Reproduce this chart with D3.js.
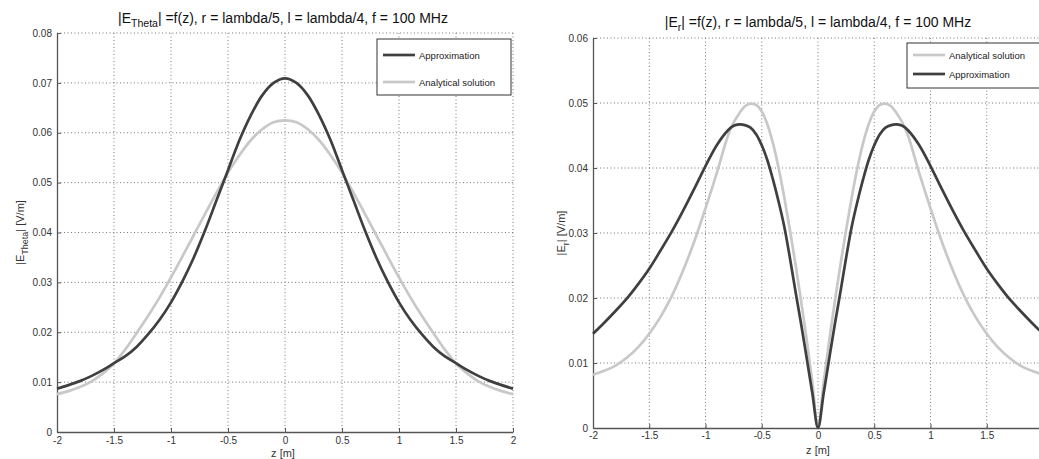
<!DOCTYPE html>
<html>
<head>
<meta charset="utf-8">
<script src="https://cdn.jsdelivr.net/npm/d3@7"></script>
<style>
    body { margin: 0; background: #fff; }
    svg { display: block; font-family: "Liberation Sans", Arial, sans-serif; }
</style>
</head>
<body>
<div id="chart"></div>
<script>
// z positions of the |E_Theta| plot
var zLeft = [-2, -1.9, -1.8, -1.7, -1.6, -1.5, -1.4, -1.3, -1.2, -1.1, -1, -0.9, -0.8, -0.7, -0.6, -0.5, -0.4, -0.3, -0.2, -0.1,
    0, 0.1, 0.2, 0.3, 0.4, 0.5, 0.6, 0.7, 0.8, 0.9, 1, 1.1, 1.2, 1.3, 1.4, 1.5, 1.6, 1.7, 1.8, 1.9, 2];

// |E_Theta| values
var thetaApprox = [0.0087, 0.0094, 0.0102, 0.0112, 0.0124, 0.0138, 0.0152, 0.0171, 0.0196, 0.0225, 0.0260, 0.0302, 0.0350, 0.0405, 0.0465, 0.0525, 0.0585, 0.0635, 0.0675, 0.0700,
    0.0709, 0.0700, 0.0675, 0.0635, 0.0585, 0.0525, 0.0465, 0.0405, 0.0350, 0.0302, 0.0260, 0.0225, 0.0196, 0.0171, 0.0152, 0.0138, 0.0124, 0.0112, 0.0102, 0.0094, 0.0087];
var thetaAnalytic = [0.0076, 0.0082, 0.0090, 0.0101, 0.0117, 0.0137, 0.0166, 0.0199, 0.0233, 0.0270, 0.0310, 0.0352, 0.0395, 0.0438, 0.0480, 0.0520, 0.0555, 0.0585, 0.0607, 0.0621,
    0.0625, 0.0621, 0.0607, 0.0585, 0.0555, 0.0520, 0.0480, 0.0438, 0.0395, 0.0352, 0.0310, 0.0270, 0.0233, 0.0199, 0.0166, 0.0137, 0.0117, 0.0101, 0.0090, 0.0082, 0.0076];

// |E_r| values, finer near z = 0
var zRight = [-2, -1.9, -1.8, -1.7, -1.6, -1.5, -1.4, -1.3, -1.2, -1.1, -1, -0.9, -0.8, -0.75, -0.7, -0.65, -0.6, -0.55, -0.5, -0.45, -0.4, -0.35, -0.3, -0.25, -0.2, -0.15, -0.1, -0.05,
    0, 0.05, 0.1, 0.15, 0.2, 0.25, 0.3, 0.35, 0.4, 0.45, 0.5, 0.55, 0.6, 0.65, 0.7, 0.75, 0.8, 0.9, 1, 1.1, 1.2, 1.3, 1.4, 1.5, 1.6, 1.7, 1.8, 1.9, 2];
var rAnalytic = [0.0082, 0.0088, 0.0096, 0.0108, 0.0124, 0.0145, 0.0171, 0.0203, 0.0242, 0.0287, 0.0338, 0.0392, 0.0450, 0.0470, 0.0484, 0.0495, 0.0499, 0.0497, 0.0487, 0.0467, 0.0438, 0.0400, 0.0355, 0.0305, 0.0252, 0.0195, 0.0135, 0.0070,
    0, 0.0070, 0.0135, 0.0195, 0.0252, 0.0305, 0.0355, 0.0400, 0.0438, 0.0467, 0.0487, 0.0497, 0.0499, 0.0495, 0.0484, 0.0470, 0.0450, 0.0392, 0.0338, 0.0287, 0.0242, 0.0203, 0.0171, 0.0145, 0.0124, 0.0108, 0.0096, 0.0088, 0.0082];
var rApprox = [0.0145, 0.0162, 0.0180, 0.0199, 0.0221, 0.0245, 0.0273, 0.0302, 0.0334, 0.0368, 0.0403, 0.0435, 0.0458, 0.0465, 0.0467, 0.0466, 0.0462, 0.0452, 0.0435, 0.0412, 0.0382, 0.0348, 0.0310, 0.0262, 0.0210, 0.0160, 0.0107, 0.0053,
    0, 0.0053, 0.0107, 0.0160, 0.0210, 0.0262, 0.0310, 0.0348, 0.0382, 0.0412, 0.0435, 0.0452, 0.0462, 0.0466, 0.0467, 0.0465, 0.0458, 0.0435, 0.0403, 0.0368, 0.0334, 0.0302, 0.0273, 0.0245, 0.0221, 0.0199, 0.0180, 0.0162, 0.0145];

var xTicks = [-2, -1.5, -1, -0.5, 0, 0.5, 1, 1.5, 2];
var yTicksLeft = [0, 0.01, 0.02, 0.03, 0.04, 0.05, 0.06, 0.07, 0.08];
var yTicksRight = [0, 0.01, 0.02, 0.03, 0.04, 0.05, 0.06];

var W = 1039, H = 459;
var DARK = "#3f3f3f", LIGHT = "#c8c8c8";

var svg = d3.select("#chart").append("svg")
    .attr("width", W)
    .attr("height", H);

function drawPanel(p) {
    var g = svg.append("g");

    var x = d3.scaleLinear().domain([-2, 2]).range([p.left, p.right]);
    var y = d3.scaleLinear().domain([0, p.yMax]).range([p.bottom, p.top]);

    // the right figure is cut at the page edge, so its last tick label is gone
    var shownTicks = xTicks.filter(function(d) { return x(d) < W - 2; });

    // dotted grid (also forms the top and right edges)
    g.selectAll(".vgrid").data(xTicks.slice(1)).enter().append("line")
        .attr("x1", function(d) { return x(d); })
        .attr("x2", function(d) { return x(d); })
        .attr("y1", p.top).attr("y2", p.bottom)
        .attr("stroke", "#7a7a7a").attr("stroke-dasharray", "1,2.5");
    g.selectAll(".hgrid").data(p.yTicks.slice(1)).enter().append("line")
        .attr("x1", p.left).attr("x2", p.right)
        .attr("y1", function(d) { return y(d); })
        .attr("y2", function(d) { return y(d); })
        .attr("stroke", "#7a7a7a").attr("stroke-dasharray", "1,2.5");

    // axes with inward ticks
    var xAxis = g.append("g")
        .attr("transform", "translate(0," + p.bottom + ")")
        .call(d3.axisBottom(x).tickValues(shownTicks).tickSizeInner(-4).tickSizeOuter(0).tickPadding(p.xPad)
            .tickFormat(function(d) { return d; }));
    var yAxis = g.append("g")
        .attr("transform", "translate(" + p.left + ",0)")
        .call(d3.axisLeft(y).tickValues(p.yTicks).tickSizeInner(-4).tickSizeOuter(0).tickPadding(5)
            .tickFormat(function(d) { return d; }));
    [xAxis, yAxis].forEach(function(a) {
        a.select(".domain").attr("stroke", "#555").attr("stroke-width", 1.3);
        a.selectAll(".tick line").attr("stroke", "#555");
        a.selectAll(".tick text").attr("fill", "#333").style("font-size", "10px")
            .style("font-family", "Liberation Sans, Arial, sans-serif");
    });

    // curves
    var line = d3.line()
        .x(function(d) { return x(d[0]); })
        .y(function(d) { return y(d[1]); })
        .curve(d3.curveCatmullRom.alpha(0.5));

    p.series.forEach(function(s) {
        g.append("path")
            .datum(p.z.map(function(z, i) { return [z, s.values[i]]; }))
            .attr("fill", "none")
            .attr("stroke", s.color)
            .attr("stroke-width", 2.7)
            .attr("stroke-linejoin", "round")
            .attr("d", line);
    });

    // title
    var t = g.append("text")
        .attr("x", p.titleX)
        .attr("y", p.titleY)
        .attr("text-anchor", "middle")
        .style("font-size", "14px")
        .attr("fill", "#111");
    t.append("tspan").text("|E");
    t.append("tspan").attr("dy", 4).style("font-size", "10.5px").text(p.sub);
    t.append("tspan").attr("dy", -4).text("| =f(z), r = lambda/5, l = lambda/4, f = 100 MHz");

    // axis labels
    g.append("text")
        .attr("x", p.titleX)
        .attr("y", p.bottom + p.xLabelDy)
        .attr("text-anchor", "middle")
        .style("font-size", "11px")
        .attr("fill", "#333")
        .text("z [m]");

    var yl = g.append("text")
        .attr("transform", "translate(" + p.yLabelX + "," + ((p.top + p.bottom) / 2) + ") rotate(-90)")
        .attr("text-anchor", "middle")
        .style("font-size", "11px")
        .attr("fill", "#333");
    yl.append("tspan").text("|E");
    yl.append("tspan").attr("dy", 4).style("font-size", "9px").text(p.sub);
    yl.append("tspan").attr("dy", -4).text("| [V/m]");

    // legend
    var lg = g.append("g").attr("transform", "translate(" + p.legend.x + "," + p.legend.y + ")");
    lg.append("rect")
        .attr("width", p.legend.w).attr("height", p.legend.h)
        .attr("fill", "#fff").attr("stroke", "#333").attr("stroke-width", 1);
    p.legend.items.forEach(function(it, i) {
        var ly = p.legend.first + i * p.legend.step;
        lg.append("line")
            .attr("x1", 6).attr("x2", 38).attr("y1", ly).attr("y2", ly)
            .attr("stroke", it.color).attr("stroke-width", 2.7);
        lg.append("text")
            .attr("x", 42).attr("y", ly + 3.5)
            .style("font-size", "9.5px")
            .attr("fill", "#222")
            .text(it.label);
    });
}

drawPanel({
    left: 57, right: 513, top: 33, bottom: 432,
    yMax: 0.08, yTicks: yTicksLeft, z: zLeft,
    titleX: 283, titleY: 23, sub: "Theta", yLabelX: 24,
    xPad: 5, xLabelDy: 25,
    series: [
        {values: thetaAnalytic, color: LIGHT},
        {values: thetaApprox, color: DARK}
    ],
    legend: {x: 377, y: 39, w: 134, h: 56, first: 16, step: 27,
        items: [{label: "Approximation", color: DARK}, {label: "Analytical solution", color: LIGHT}]}
});

drawPanel({
    left: 593, right: 1043, top: 38, bottom: 428,
    yMax: 0.06, yTicks: yTicksRight, z: zRight,
    titleX: 818, titleY: 27, sub: "r", yLabelX: 565,
    xPad: 4, xLabelDy: 26,
    series: [
        {values: rAnalytic, color: LIGHT},
        {values: rApprox, color: DARK}
    ],
    legend: {x: 907, y: 43, w: 134, h: 45, first: 12, step: 19,
        items: [{label: "Analytical solution", color: LIGHT}, {label: "Approximation", color: DARK}]}
});
</script>
</body>
</html>
